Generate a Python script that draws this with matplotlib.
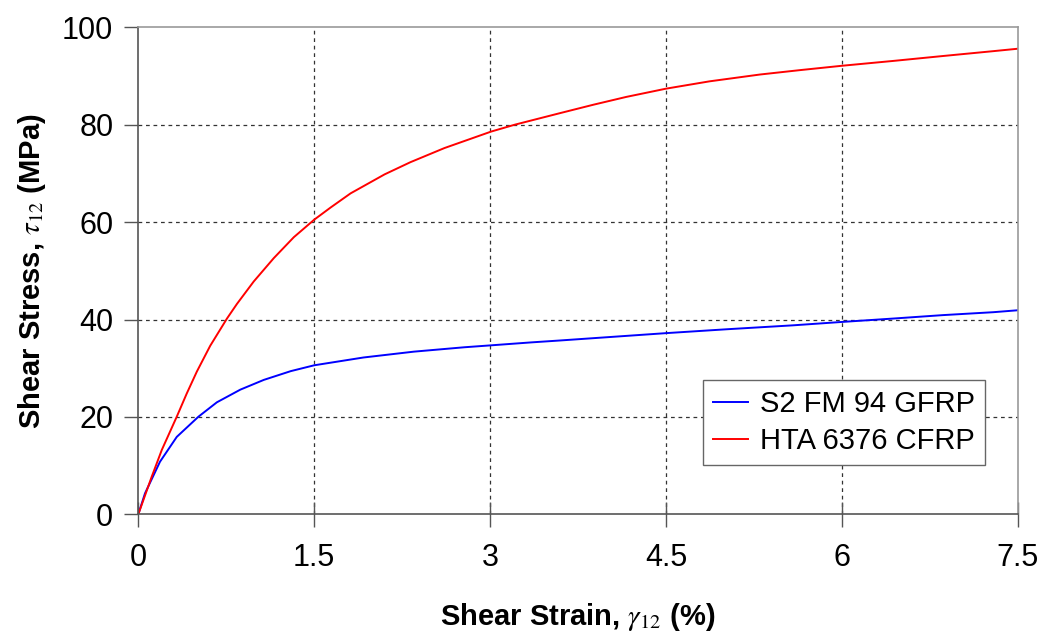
import matplotlib
matplotlib.use("Agg")
import matplotlib.pyplot as plt

plt.rcParams['font.family'] = ['Liberation Sans', 'DejaVu Sans']
plt.rcParams['mathtext.fontset'] = 'stix'

# Shear stress-strain response, S2 FM 94 GFRP
gfrp_strain = [0.0, 0.057, 0.185, 0.328, 0.513, 0.67, 0.87, 1.07, 1.30, 1.5,
               1.92, 2.35, 2.78, 3.01, 3.35, 3.6, 4.02, 4.5, 5.02, 5.58,
               6.0, 6.44, 6.86, 7.29, 7.5]
gfrp_stress = [0.0, 4.3, 10.8, 15.9, 20.05, 23.0, 25.6, 27.6, 29.4, 30.6,
               32.2, 33.4, 34.3, 34.7, 35.3, 35.7, 36.4, 37.2, 38.0, 38.8,
               39.5, 40.2, 40.9, 41.5, 41.9]

# Shear stress-strain response, HTA 6376 CFRP
cfrp_strain = [0.0, 0.114, 0.2, 0.328, 0.413, 0.499, 0.613, 0.756, 0.841, 0.984,
               1.155, 1.326, 1.5, 1.64, 1.81, 2.10, 2.32, 2.61, 3.01, 3.21,
               3.6, 3.88, 4.16, 4.5, 4.87, 5.30, 5.64, 6.0, 6.44, 6.86,
               7.29, 7.5]
cfrp_stress = [0.0, 7.7, 13.2, 20.05, 24.8, 29.3, 34.6, 40.2, 43.2, 47.8,
               52.6, 56.9, 60.5, 63.0, 65.9, 69.8, 72.3, 75.2, 78.6, 80.0,
               82.4, 84.1, 85.7, 87.4, 88.9, 90.3, 91.2, 92.1, 93.1, 94.1,
               95.1, 95.6]

x_ticks = [0, 1.5, 3, 4.5, 6, 7.5]
x_tick_labels = ['0', '1.5', '3', '4.5', '6', '7.5']
y_ticks = [0, 20, 40, 60, 80, 100]

fig = plt.figure(figsize=(10.43, 6.33), dpi=100)
ax = fig.add_axes([0.1326, 0.1875, 0.8434, 0.7694])

# interior dashed grid
grid_style = dict(color='#333333', linestyle=(0, (3, 3)), linewidth=0.9, zorder=0)
for xv in x_ticks[1:-1]:
    ax.axvline(xv, **grid_style)
for yv in y_ticks[1:-1]:
    ax.axhline(yv, **grid_style)

ax.plot(gfrp_strain, gfrp_stress, color='#0000ff', lw=1.4, label='S2 FM 94 GFRP')
ax.plot(cfrp_strain, cfrp_stress, color='#ff0000', lw=1.4, label='HTA 6376 CFRP')

ax.set_xlim(0, 7.5)
ax.set_ylim(0, 100)
ax.set_xticks(x_ticks)
ax.set_xticklabels(x_tick_labels)
ax.set_yticks(y_ticks)

for side in ('left', 'bottom'):
    ax.spines[side].set_color('#555555')
    ax.spines[side].set_linewidth(1.2)
for side in ('top', 'right'):
    ax.spines[side].set_color('#999999')
    ax.spines[side].set_linewidth(1.2)

ax.tick_params(axis='y', direction='out', length=10, width=1, color='#555555',
               labelsize=22, pad=8)
ax.tick_params(axis='x', direction='inout', length=18, width=1, color='#555555',
               labelsize=22, pad=12)

ax.set_xlabel(r'Shear Strain, $\gamma_{12}$ (%)', fontsize=21, fontweight='bold',
              labelpad=20)
ax.set_ylabel(r'Shear Stress, $\tau_{12}$ (MPa)', fontsize=21, fontweight='bold',
              labelpad=10)

leg = ax.legend(loc='upper left', bbox_to_anchor=(0.6416, 0.2758), fontsize=21,
                frameon=True, fancybox=False, edgecolor='#666666',
                handlelength=1.2, handletextpad=0.4, borderpad=0.35,
                labelspacing=0.3, borderaxespad=0)
leg.get_frame().set_linewidth(1.0)
leg.get_frame().set_alpha(1)

fig.savefig('out.png', dpi=100, facecolor='white')
